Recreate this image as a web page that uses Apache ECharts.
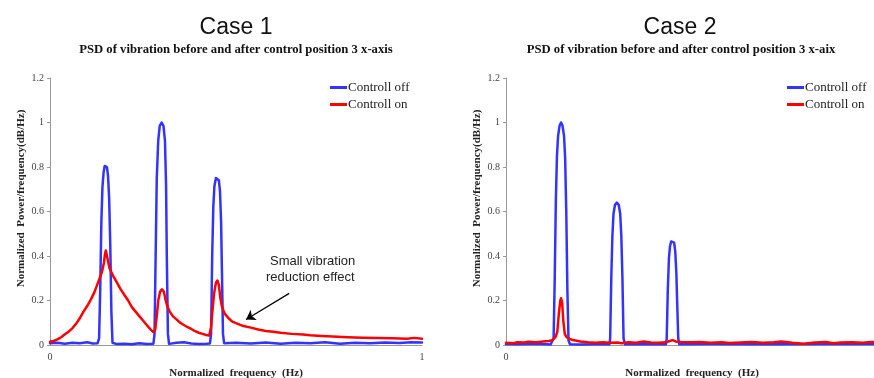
<!DOCTYPE html>
<html>
<head>
<meta charset="utf-8">
<script src="https://cdn.jsdelivr.net/npm/echarts@6/dist/echarts.min.js"></script>
<style>
  html, body { margin: 0; padding: 0; background: #fff; }
  #psd { width: 874px; height: 378px; }
</style>
</head>
<body>
<div id="psd"></div>
<script>
// case 1 : [normalized frequency, normalized PSD]
var case1Off = [
  [0, 0.008], [0.02, 0.01], [0.04, 0.006], [0.06, 0.01], [0.08, 0.008], [0.1, 0.012], [0.115, 0.007],
  [0.128, 0.008], [0.132, 0.03], [0.135, 0.25], [0.138, 0.55], [0.141, 0.71], [0.144, 0.775], [0.147, 0.805], [0.15, 0.81],
  [0.153, 0.8], [0.156, 0.76], [0.159, 0.66], [0.162, 0.45], [0.165, 0.15], [0.168, 0.01], [0.18, 0.004], [0.2, 0.006],
  [0.22, 0.003], [0.24, 0.008], [0.26, 0.005], [0.278, 0.006], [0.281, 0.05], [0.284, 0.4], [0.287, 0.75],
  [0.291, 0.92], [0.295, 0.985], [0.3, 1.0], [0.305, 0.985], [0.309, 0.92], [0.312, 0.72], [0.314, 0.4], [0.317, 0.05], [0.32, 0.005],
  [0.34, 0.01], [0.36, 0.012], [0.38, 0.007], [0.4, 0.005], [0.42, 0.006], [0.43, 0.007], [0.433, 0.05],
  [0.436, 0.4], [0.439, 0.62], [0.442, 0.715], [0.446, 0.75], [0.45, 0.755], [0.454, 0.74], [0.457, 0.69], [0.46, 0.55], [0.462, 0.35],
  [0.465, 0.05], [0.468, 0.008], [0.5, 0.01], [0.54, 0.007], [0.58, 0.011], [0.62, 0.006], [0.66, 0.01],
  [0.7, 0.008], [0.74, 0.012], [0.78, 0.006], [0.82, 0.01], [0.86, 0.008], [0.9, 0.011], [0.94, 0.009],
  [0.97, 0.012], [1.0, 0.011]
];
var case1On = [
  [0, 0.015], [0.01, 0.018], [0.02, 0.025], [0.03, 0.035], [0.04, 0.048], [0.05, 0.06], [0.06, 0.075],
  [0.07, 0.095], [0.08, 0.12], [0.09, 0.15], [0.1, 0.175], [0.11, 0.205], [0.12, 0.24], [0.13, 0.285],
  [0.14, 0.33], [0.145, 0.37], [0.148, 0.41], [0.15, 0.425], [0.152, 0.41], [0.155, 0.385], [0.16, 0.345], [0.17, 0.31], [0.18, 0.28],
  [0.19, 0.25], [0.2, 0.225], [0.21, 0.2], [0.22, 0.17], [0.23, 0.15], [0.24, 0.13], [0.25, 0.11],
  [0.26, 0.09], [0.27, 0.07], [0.278, 0.058], [0.283, 0.07], [0.287, 0.13], [0.291, 0.2], [0.296, 0.24], [0.301, 0.25],
  [0.306, 0.24], [0.311, 0.2], [0.316, 0.17], [0.322, 0.15], [0.33, 0.13], [0.34, 0.115], [0.35, 0.1], [0.36, 0.09],
  [0.37, 0.08], [0.38, 0.072], [0.39, 0.062], [0.4, 0.055], [0.41, 0.05], [0.42, 0.045], [0.428, 0.043],
  [0.433, 0.08], [0.437, 0.16], [0.441, 0.23], [0.446, 0.28], [0.45, 0.29], [0.454, 0.27], [0.458, 0.21], [0.462, 0.175], [0.466, 0.155],
  [0.47, 0.14], [0.48, 0.12], [0.49, 0.105], [0.5, 0.098], [0.52, 0.085], [0.54, 0.078], [0.56, 0.07],
  [0.58, 0.063], [0.6, 0.06], [0.62, 0.055], [0.65, 0.05], [0.68, 0.047], [0.7, 0.044], [0.73, 0.041],
  [0.76, 0.038], [0.8, 0.035], [0.84, 0.033], [0.88, 0.032], [0.92, 0.03], [0.96, 0.028], [0.98, 0.032],
  [1.0, 0.028]
];
// case 2
var case2Off = [
  [0, 0.004], [0.03, 0.003], [0.06, 0.005], [0.09, 0.004], [0.11, 0.003], [0.12, 0.002], [0.125, 0.005],
  [0.128, 0.03], [0.131, 0.3], [0.134, 0.65], [0.137, 0.85], [0.14, 0.94], [0.144, 0.985], [0.148, 1.0], [0.152, 0.985],
  [0.156, 0.94], [0.159, 0.84], [0.162, 0.6], [0.165, 0.25], [0.168, 0.02], [0.172, 0.003], [0.2, 0.002], [0.24, 0.003],
  [0.278, 0.003], [0.28, 0.03], [0.283, 0.3], [0.286, 0.49], [0.289, 0.59], [0.293, 0.63], [0.298, 0.64], [0.303, 0.63],
  [0.307, 0.59], [0.31, 0.49], [0.313, 0.3], [0.316, 0.03], [0.32, 0.003], [0.36, 0.003], [0.4, 0.003], [0.43, 0.003],
  [0.432, 0.03], [0.435, 0.25], [0.438, 0.39], [0.441, 0.445], [0.444, 0.465], [0.448, 0.47], [0.452, 0.46], [0.455, 0.42],
  [0.458, 0.32], [0.46, 0.2], [0.463, 0.03], [0.466, 0.003], [0.55, 0.004], [0.7, 0.003], [0.85, 0.004], [1.0, 0.004]
];
var case2On = [
  [0, 0.01], [0.02, 0.008], [0.03, 0.012], [0.05, 0.011], [0.06, 0.015], [0.08, 0.012], [0.1, 0.016],
  [0.115, 0.018], [0.125, 0.022], [0.133, 0.035], [0.138, 0.06], [0.142, 0.14], [0.146, 0.2], [0.148, 0.21],
  [0.151, 0.19], [0.154, 0.11], [0.158, 0.05], [0.163, 0.035], [0.17, 0.028], [0.18, 0.022], [0.2, 0.016],
  [0.22, 0.012], [0.24, 0.01], [0.26, 0.012], [0.28, 0.01], [0.3, 0.011], [0.31, 0.008], [0.33, 0.012],
  [0.35, 0.01], [0.37, 0.016], [0.39, 0.011], [0.41, 0.01], [0.43, 0.012], [0.44, 0.018], [0.448, 0.022],
  [0.456, 0.016], [0.47, 0.013], [0.5, 0.012], [0.52, 0.014], [0.55, 0.01], [0.58, 0.012], [0.6, 0.009],
  [0.63, 0.011], [0.66, 0.014], [0.69, 0.01], [0.72, 0.012], [0.74, 0.016], [0.77, 0.01], [0.8, 0.006],
  [0.83, 0.011], [0.86, 0.013], [0.88, 0.008], [0.9, 0.011], [0.93, 0.012], [0.96, 0.01], [0.98, 0.014],
  [1.0, 0.013]
];

var serif = '"Liberation Serif", "Times New Roman", serif';
var sans = '"Liberation Sans", Arial, sans-serif';
var BLUE = '#3333ff';
var RED = '#ff0000';

function xAxisOf (grid) {
  return {
    type: 'value', gridIndex: grid, min: 0, max: 1, interval: 1,
    name: 'Normalized  frequency  (Hz)', nameLocation: 'middle', nameGap: 23,
    nameTextStyle: { fontFamily: serif, fontWeight: 'bold', fontSize: 11, color: '#222' },
    axisLine: { lineStyle: { color: '#999', width: 1 } },
    axisTick: { show: false },
    axisLabel: { fontFamily: serif, fontSize: 10, color: '#444', margin: 7 },
    splitLine: { show: false }
  }
}
function yAxisOf (grid) {
  return {
    type: 'value', gridIndex: grid, min: 0, max: 1.2, interval: 0.2,
    name: 'Normalized  Power/frequency(dB/Hz)', nameLocation: 'middle', nameRotate: 90, nameGap: 23,
    nameTextStyle: { fontFamily: serif, fontWeight: 'bold', fontSize: 11, color: '#222', padding: [0, 0, 0, 26] },
    axisLine: { show: true, lineStyle: { color: '#999', width: 1 } },
    axisTick: { show: true, length: 3, lineStyle: { color: '#999' } },
    axisLabel: { fontFamily: serif, fontSize: 10, color: '#444', margin: 6 },
    splitLine: { show: false }
  }
}
function lineOf (name, data, color, axis) {
  return {
    name: name, type: 'line', data: data, xAxisIndex: axis, yAxisIndex: axis,
    showSymbol: false, smooth: false,
    lineStyle: { color: color, width: 2.5, join: 'round', cap: 'round' }, itemStyle: { color: color }
  }
}
function legendOf (left) {
  return {
    orient: 'vertical', left: left, top: 76, itemWidth: 17, itemHeight: 3, itemGap: 4,
    icon: 'rect', data: ['Controll off', 'Controll on'],
    textStyle: { fontFamily: serif, fontSize: 13, color: '#222', padding: [0, 0, 0, -4] }
  }
}

var chart = echarts.init(document.getElementById('psd'));
var c1On = lineOf('Controll on', case1On, RED, 0);
c1On.markLine = {
  silent: true, symbol: ['none', 'arrow'], symbolSize: 9,
  label: { show: false },
  lineStyle: { color: '#000', width: 1.2, type: 'solid' },
  data: [[{ coord: [0.643, 0.232] }, { coord: [0.527, 0.115] }]]
};
chart.setOption({
  animation: false,
  title: [
    { text: 'Case 1', left: 231, top: 11, textAlign: 'center', textStyle: { fontFamily: sans, fontWeight: 'normal', fontSize: 23, color: '#111' } },
    { text: 'PSD of vibration before and after control position 3 x-axis', left: 231, top: 38, textAlign: 'center', textStyle: { fontFamily: serif, fontWeight: 'bold', fontSize: 12.7, color: '#111' } },
    { text: 'Case 2', left: 675, top: 11, textAlign: 'center', textStyle: { fontFamily: sans, fontWeight: 'normal', fontSize: 23, color: '#111' } },
    { text: 'PSD of vibration before and after control position 3 x-aix', left: 676, top: 38, textAlign: 'center', textStyle: { fontFamily: serif, fontWeight: 'bold', fontSize: 12.7, color: '#111' } }
  ],
  legend: [legendOf(325), legendOf(782)],
  grid: [
    { left: 50, top: 78, width: 372, height: 267, outerBoundsMode: 'none' },
    { left: 506, top: 78, width: 372, height: 267, outerBoundsMode: 'none' }
  ],
  xAxis: [xAxisOf(0), xAxisOf(1)],
  yAxis: [yAxisOf(0), yAxisOf(1)],
  graphic: [
    { type: 'text', left: 270, top: 255, style: { text: 'Small vibration', font: '13px ' + sans, fill: '#222' } },
    { type: 'text', left: 266, top: 271, style: { text: 'reduction effect', font: '13px ' + sans, fill: '#222' } }
  ],
  series: [
    lineOf('Controll off', case1Off, BLUE, 0),
    c1On,
    lineOf('Controll off', case2Off, BLUE, 1),
    lineOf('Controll on', case2On, RED, 1)
  ]
});
</script>
</body>
</html>
